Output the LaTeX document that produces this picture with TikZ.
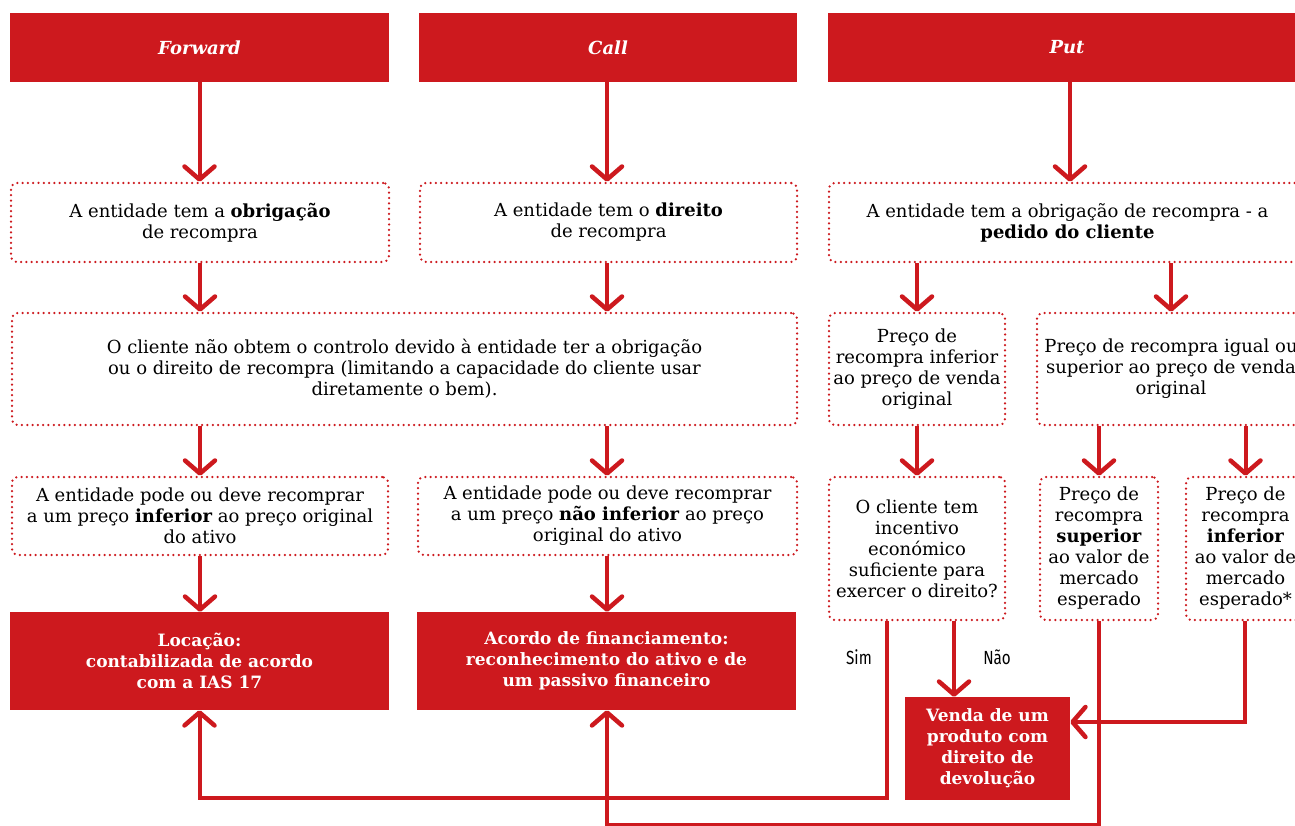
\documentclass[tikz,border=0pt]{standalone}
\usepackage{fontspec}
\setmainfont{DejaVu Serif}
\newfontfamily\lblfont[FakeStretch=0.8]{Fira Sans}
\usetikzlibrary{arrows.meta}
\definecolor{dred}{RGB}{205,25,30}
\begin{document}
\begin{tikzpicture}[x=1pt,y=-1pt,
  hdr/.style={fill=dred,text=white,font=\fontsize{18}{21}\selectfont\bfseries\itshape,inner sep=0pt,minimum height=69pt},
  res/.style={fill=dred,text=white,font=\fontsize{17}{21}\selectfont\bfseries,inner sep=0pt,align=center},
  dbox/.style={draw=dred,line width=2.5pt,dash pattern=on 0pt off 5.3pt,line cap=round,rounded corners=6pt,inner sep=0pt,align=center,font=\fontsize{18}{21}\selectfont},
  arr/.style={draw=dred,line width=4pt,-{Straight Barb[length=13pt,width=30pt,line width=4.5pt,round]}},
  lbl/.style={font=\lblfont\fontsize{19}{22}\selectfont,inner sep=0pt}
]
\useasboundingbox (0,0) rectangle (1295,826);
\clip (0,0) rectangle (1295,826);
\fill[white] (0,0) rectangle (1295,826);

% headers
\node[hdr,minimum width=379pt] (hF) at (199.5,47.5) {Forward};
\node[hdr,minimum width=378pt] (hC) at (608,47.5) {Call};
\node[hdr,minimum width=478pt] (hP) at (1067,47.5) {Put};

% row 2
\node[dbox,minimum width=378pt,minimum height=79pt] (rF) at (200,222.5) {A entidade tem a \textbf{obrigação}\\de recompra};
\node[dbox,minimum width=377pt,minimum height=79pt] (rC) at (608.5,222.5) {A entidade tem o \textbf{direito}\\de recompra};
\node[dbox,minimum width=477pt,minimum height=79pt] (rP) at (1067.5,222.5) {A entidade tem a obrigação de recompra - a\\\textbf{pedido do cliente}};

% row 3
\node[dbox,minimum width=785pt,minimum height=112pt] (big) at (404.5,369) {O cliente não obtem o controlo devido à entidade ter a obrigação\\ou o direito de recompra (limitando a capacidade do cliente usar\\diretamente o bem).};
\node[dbox,minimum width=176pt,minimum height=112pt] (pl) at (917,369) {Preço de\\recompra inferior\\ao preço de venda\\original};
\node[dbox,minimum width=268pt,minimum height=112pt] (pr) at (1171,369) {Preço de recompra igual ou\\superior ao preço de venda\\original};

% row 4
\node[dbox,minimum width=376pt,minimum height=78pt] (qF) at (200,516) {A entidade pode ou deve recomprar\\a um preço \textbf{inferior} ao preço original\\do ativo};
\node[dbox,minimum width=379pt,minimum height=78pt] (qC) at (607.5,516) {A entidade pode ou deve recomprar\\a um preço \textbf{não inferior} ao preço\\original do ativo};
\node[dbox,minimum width=176pt,minimum height=143pt] (oc) at (917,548.5) {O cliente tem\\incentivo\\económico\\suficiente para\\exercer o direito?};
\node[dbox,minimum width=118pt,minimum height=143pt] (sup) at (1099,548.5) {Preço de\\recompra\\\textbf{superior}\\ao valor de\\mercado\\esperado};
\node[dbox,minimum width=119pt,minimum height=143pt] (inf) at (1245.5,548.5) {Preço de\\recompra\\\textbf{inferior}\\ao valor de\\mercado\\esperado*};

% row 5
\node[res,minimum width=379pt,minimum height=98pt] (loc) at (199.5,661) {Locação:\\contabilizada de acordo\\com a IAS 17};
\node[res,minimum width=379pt,minimum height=98pt] (acc) at (606.5,661) {Acordo de financiamento:\\reconhecimento do ativo e de\\um passivo financeiro};
\node[res,minimum width=165pt,minimum height=103pt] (venda) at (987.5,748.5) {Venda de um\\produto com\\direito de\\devolução};

% labels
\node[lbl] (sim) at (859,657) {Sim};
\node[lbl] (nao) at (997,657) {Não};

% helper coordinates
\coordinate (simturn) at (887,798);
\coordinate (naox) at (954,700);
\coordinate (bot) at (800,825);
\coordinate (infy) at (1245,722);

% arrows header -> row 2
\draw[arr] (hF.south) -- (hF.south |- rF.north);
\draw[arr] (hC.south -| 607,0) -- (rC.north -| 607,0);
\draw[arr] (hP.south -| 1070,0) -- (rP.north -| 1070,0);

% row 2 -> row 3
\draw[arr] (rF.south) -- (rF.south |- big.north);
\draw[arr] (rC.south -| 607,0) -- (big.north -| 607,0);
\draw[arr] (rP.south -| pl.north) -- (pl.north);
\draw[arr] (rP.south -| pr.north) -- (pr.north);

% row 3 -> row 4
\draw[arr] (big.south -| qF.north) -- (qF.north);
\draw[arr] (big.south -| 607,0) -- (qC.north -| 607,0);
\draw[arr] (pl.south) -- (oc.north);
\draw[arr] (pr.south -| sup.north) -- (sup.north);
\draw[arr] (pr.south -| inf.north) -- (inf.north);

% row 4 -> row 5
\draw[arr] (qF.south) -- (qF.south |- loc.north);
\draw[arr] (qC.south -| 607,0) -- (acc.north -| 607,0);

% bottom connectors
\draw[arr] (oc.south -| simturn) -- (simturn) -| (loc.south);
\draw[arr] (oc.south -| naox) -- (venda.north -| naox);
\draw[arr] (sup.south) |- (bot) -| (acc.south -| 607,0);
\draw[arr] (inf.south -| infy) -- (infy) -- (venda.east |- infy);
\end{tikzpicture}
\end{document}
